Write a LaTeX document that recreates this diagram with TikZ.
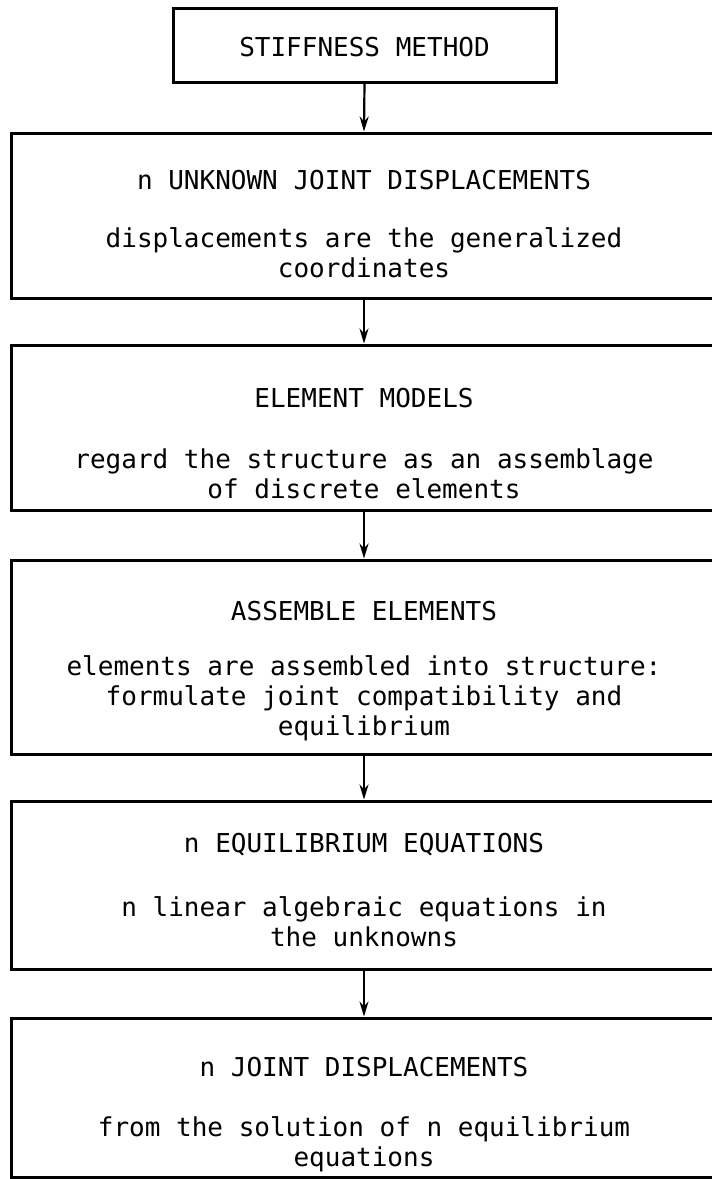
\documentclass[tikz,border=0pt]{standalone}
\usepackage{fontspec}
\setmonofont{DejaVu Sans Mono}
\usetikzlibrary{arrows.meta}
\begin{document}
\begin{tikzpicture}[x=1pt,y=-1pt,
  box/.style={draw, line width=3pt, rectangle, inner sep=0pt},
  head/.style={font=\fontsize{26}{30}\selectfont\ttfamily, inner sep=0pt},
  para/.style={font=\fontsize{26}{30}\selectfont\ttfamily, align=center, inner sep=0pt},
  arr/.style={line width=2.2pt, -{Stealth[length=15pt,width=9pt]}}]
\useasboundingbox (0,0) rectangle (712,1179);
\clip (0,0) rectangle (712,1179);
% boxes
\node[box, minimum width=383pt, minimum height=74pt] (b1) at (364.5,45) {};
\node[box, minimum width=706pt, minimum height=165pt] (b2) at (364,215.5) {};
\node[box, minimum width=706pt, minimum height=165pt] (b3) at (364,427.5) {};
\node[box, minimum width=706pt, minimum height=194pt] (b4) at (364,657) {};
\node[box, minimum width=706pt, minimum height=168pt] (b5) at (364,885) {};
\node[box, minimum width=706pt, minimum height=159pt] (b6) at (364,1097.5) {};
% texts
\node[head] (t1) at (364.5,47) {STIFFNESS METHOD};
\node[head] (h2) at (364,180) {n UNKNOWN JOINT DISPLACEMENTS};
\node[para] (p2) at (364,253) {displacements are the generalized\\coordinates};
\node[head] (h3) at (364,398) {ELEMENT MODELS};
\node[para] (p3) at (364,474) {regard the structure as an assemblage\\of discrete elements};
\node[head] (h4) at (364,611) {ASSEMBLE ELEMENTS};
\node[para] (p4) at (364,698) {elements are assembled into structure:\\formulate joint compatibility and\\equilibrium};
\node[head] (h5) at (364,845) {n EQUILIBRIUM EQUATIONS};
\node[para] (p5) at (364,922) {n linear algebraic equations in\\the unknowns};
\node[head] (h6) at (364,1067) {n JOINT DISPLACEMENTS};
\node[para] (p6) at (364,1144) {from the solution of n equilibrium\\equations};
% arrows
\draw[arr] (b1.south) -- (b2.north);
\draw[arr] (b2.south) -- (b3.north);
\draw[arr] (b3.south) -- (b4.north);
\draw[arr] (b4.south) -- (b5.north);
\draw[arr] (b5.south) -- (b6.north);
\end{tikzpicture}
\end{document}
